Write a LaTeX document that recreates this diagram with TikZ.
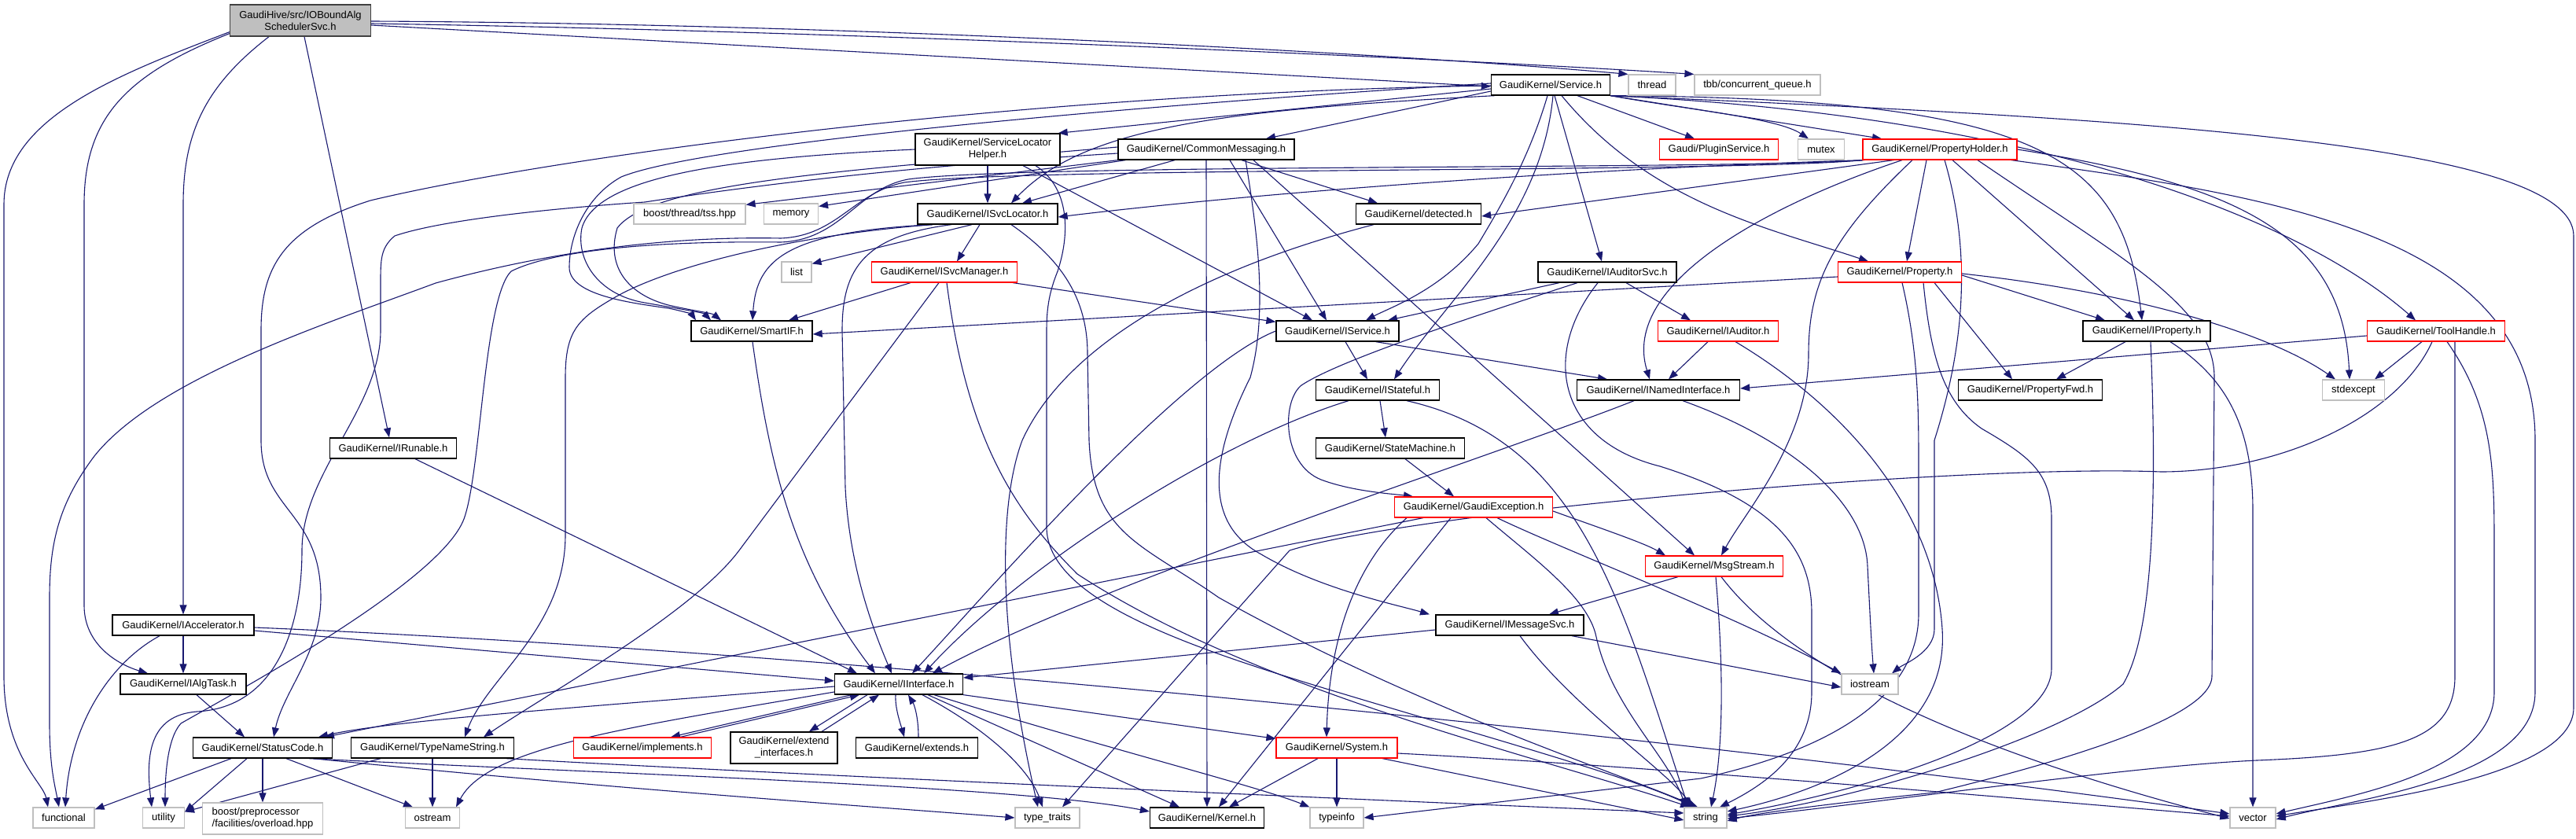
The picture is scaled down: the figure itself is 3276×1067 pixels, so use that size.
\documentclass[tikz,border=0pt]{standalone}
\usepackage{fontspec}
\setmainfont{Liberation Sans}
\usetikzlibrary{arrows.meta}
\definecolor{edgec}{HTML}{191970}
\definecolor{boxgray}{HTML}{BFBFBF}
\definecolor{rootborder}{HTML}{404040}
\definecolor{truncred}{HTML}{FF0000}
\pgfdeclarelayer{bgfill}
\pgfdeclarelayer{edges}
\pgfsetlayers{bgfill,edges,main}
\begin{document}
\begin{tikzpicture}[x=1pt,y=-1pt,
  nbox/.style={rectangle, inner sep=0pt, minimum height=26pt, fill=white, text=black, font=\fontsize{13}{15}\selectfont, align=center},
  nb/.style={nbox, draw=black, line width=1.3pt},
  nr/.style={nbox, draw=truncred, line width=1.2pt},
  ng/.style={nbox, draw=boxgray, line width=1.2pt},
  nroot/.style={nbox, draw=rootborder, fill=boxgray, line width=1.3pt},
  tall/.style={minimum height=40pt},
  lnk/.style={draw=edgec, line width=1.1pt, -{Triangle[length=12pt,width=9pt]}}
]
\useasboundingbox (0,0) rectangle (3276,1067);
\begin{pgfonlayer}{bgfill}
\fill[white] (0,0) rectangle (3276,1067);
\end{pgfonlayer}

% ---------- nodes ----------
\node[nroot,tall,minimum width=179pt] (root) at (382,26) {GaudiHive/src/IOBoundAlg\\SchedulerSvc.h};
\node[nb,minimum width=151pt] (svc) at (1972,108) {GaudiKernel/Service.h};
\node[ng,minimum width=60pt] (thread) at (2101,108) {thread};
\node[ng,minimum width=160pt] (tbb) at (2235,108) {tbb/concurrent\_queue.h};
\node[nb,tall,minimum width=184pt] (slh) at (1256,190) {GaudiKernel/ServiceLocator\\Helper.h};
\node[nb,minimum width=224pt] (cm) at (1534,190) {GaudiKernel/CommonMessaging.h};
\node[nr,minimum width=151pt] (plug) at (2186,190) {Gaudi/PluginService.h};
\node[ng,minimum width=59pt] (mutex) at (2316,190) {mutex};
\node[nr,minimum width=196pt] (ph) at (2467,190) {GaudiKernel/PropertyHolder.h};
\node[ng,minimum width=142pt] (tss) at (877,272) {boost/thread/tss.hpp};
\node[ng,minimum width=69pt] (memory) at (1006,272) {memory};
\node[nb,minimum width=178pt] (isl) at (1256,272) {GaudiKernel/ISvcLocator.h};
\node[nb,minimum width=159pt] (det) at (1804,272) {GaudiKernel/detected.h};
\node[ng,minimum width=38pt] (list) at (1013,346) {list};
\node[nr,minimum width=185pt] (ism) at (1201,346) {GaudiKernel/ISvcManager.h};
\node[nb,minimum width=176pt] (ias) at (2044,346) {GaudiKernel/IAuditorSvc.h};
\node[nr,minimum width=157pt] (prop) at (2416,346) {GaudiKernel/Property.h};
\node[nb,minimum width=154pt] (sif) at (956,421) {GaudiKernel/SmartIF.h};
\node[nb,minimum width=156pt] (isv) at (1701,421) {GaudiKernel/IService.h};
\node[nr,minimum width=153pt] (iaud) at (2185,421) {GaudiKernel/IAuditor.h};
\node[nb,minimum width=162pt] (iprop) at (2730,421) {GaudiKernel/IProperty.h};
\node[nr,minimum width=175pt] (tool) at (3098,421) {GaudiKernel/ToolHandle.h};
\node[nb,minimum width=157pt] (ist) at (1752,496) {GaudiKernel/IStateful.h};
\node[nb,minimum width=207pt] (inam) at (2109,496) {GaudiKernel/INamedInterface.h};
\node[nb,minimum width=183pt] (pfwd) at (2582,496) {GaudiKernel/PropertyFwd.h};
\node[ng,minimum width=79pt] (stdex) at (2993,496) {stdexcept};
\node[nb,minimum width=161pt] (irun) at (500,570) {GaudiKernel/IRunable.h};
\node[nb,minimum width=189pt] (sm) at (1768,570) {GaudiKernel/StateMachine.h};
\node[nr,minimum width=201pt] (gex) at (1874,645) {GaudiKernel/GaudiException.h};
\node[nr,minimum width=175pt] (msg) at (2180,720) {GaudiKernel/MsgStream.h};
\node[nb,minimum width=180pt] (iacc) at (233,795) {GaudiKernel/IAccelerator.h};
\node[nb,minimum width=188pt] (imsg) at (1920,795) {GaudiKernel/IMessageSvc.h};
\node[nb,minimum width=160pt] (ialg) at (233,870) {GaudiKernel/IAlgTask.h};
\node[nb,minimum width=163pt] (iif) at (1143,870) {GaudiKernel/IInterface.h};
\node[ng,minimum width=72pt] (iostream) at (2378,870) {iostream};
\node[nb,minimum width=177pt] (sc) at (334,951) {GaudiKernel/StatusCode.h};
\node[nb,minimum width=207pt] (tns) at (550,951) {GaudiKernel/TypeNameString.h};
\node[nr,minimum width=175pt] (impl) at (817,951) {GaudiKernel/implements.h};
\node[nb,tall,minimum width=136pt] (ext) at (997,951) {GaudiKernel/extend\\\_interfaces.h};
\node[nb,minimum width=155pt] (exts) at (1166,951) {GaudiKernel/extends.h};
\node[nr,minimum width=154pt] (sys) at (1700,951) {GaudiKernel/System.h};
\node[ng,minimum width=78pt] (functional) at (81,1040) {functional};
\node[ng,minimum width=53pt] (utility) at (208,1040) {utility};
\node[ng,tall,minimum width=153pt,align=left] (bpp) at (334,1041) {boost/preprocessor\\/facilities/overload.hpp};
\node[ng,minimum width=69pt] (ostream) at (550,1040) {ostream};
\node[ng,minimum width=82pt] (tt) at (1332,1040) {type\_traits};
\node[nb,minimum width=145pt] (kern) at (1535,1040) {GaudiKernel/Kernel.h};
\node[ng,minimum width=68pt] (tinfo) at (1700,1040) {typeinfo};
\node[ng,minimum width=54pt] (string) at (2169,1040) {string};
\node[ng,minimum width=58pt] (vector) at (2865,1040) {vector};

% ---------- edges ----------
\begin{pgfonlayer}{edges}
% root
\draw[lnk] ([yshift=-6pt]root.east) -- ([yshift=-2pt]svc.west);
\draw[lnk] ([yshift=-1pt]root.east) .. controls (1100,30) and (1800,70) .. (thread.north west);
\draw[lnk] ([yshift=-4pt]root.east) .. controls (1100,40) and (1850,75) .. (tbb.north west);
\draw[lnk] ([yshift=6pt]root.south west) .. controls (150,95) and (5,150) .. (5,260) -- (5,860) .. controls (5,960) and (55,995) .. ([xshift=-20pt]functional.north);
\draw[lnk] ([yshift=4pt]root.south west) .. controls (160,95) and (107,150) .. (107,260) -- (107,770) .. controls (107,820) and (150,845) .. ([xshift=-45pt]ialg.north);
\draw[lnk] ([xshift=-40pt]root.south) .. controls (260,110) and (233,170) .. (233,260) -- (iacc.north);
\draw[lnk] ([xshift=5pt]root.south) -- ([xshift=-5pt]irun.north);
% Service.h
\draw[lnk] ([yshift=-5pt]svc.west) -- ([xshift=-3pt]slh.north east);
\draw[lnk] ([yshift=-8pt]svc.west) -- ([xshift=76pt]cm.north);
\draw[lnk] ([xshift=5pt]svc.south west) .. controls (1560,140) and (1380,160) .. ([xshift=30pt]isl.north);
\draw[lnk] ([yshift=2pt]svc.west) .. controls (1500,130) and (900,180) .. (790,225) .. controls (745,250) and (724,300) .. (724,340) .. controls (724,375) and (800,385) .. (850,392) .. controls (870,396) and (880,400) .. ([xshift=-71pt]sif.north);
\draw[lnk] ([yshift=-1pt]svc.west) .. controls (1300,118) and (700,200) .. (471,255) .. controls (360,290) and (332,340) .. (332,420) -- (332,560) .. controls (332,650) and (408,650) .. (408,760) .. controls (408,830) and (360,880) .. ([xshift=14pt]sc.north);
\draw[lnk] ([xshift=-4pt]svc.south) .. controls (1945,200) and (1910,260) .. (1880,310) .. controls (1830,370) and (1770,390) .. ([xshift=36pt]isv.north);
\draw[lnk] ([xshift=3pt]svc.south) .. controls (1960,280) and (1840,380) .. ([xshift=21pt]ist.north);
\draw[lnk] ([xshift=5pt]svc.south) -- ([xshift=-7pt]ias.north);
\draw[lnk] ([xshift=14pt]svc.south) .. controls (2100,260) and (2250,290) .. ([xshift=-40pt]prop.north);
\draw[lnk] ([xshift=34pt]svc.south) -- ([xshift=-31pt]plug.north);
\draw[lnk] (svc.south east) .. controls (2150,140) and (2260,150) .. ([xshift=-16pt]mutex.north);
\draw[lnk] (svc.south east) -- ([xshift=-74pt]ph.north);
\draw[lnk] (svc.south east) .. controls (2600,125) and (2700,200) .. ([xshift=-6pt]iprop.north);
\draw[lnk] (svc.south east) .. controls (2650,150) and (2950,300) .. ([xshift=-26pt]tool.north);
\draw[lnk] (svc.south east) .. controls (2700,150) and (3273,180) .. (3273,300) -- (3273,900) .. controls (3273,990) and (3000,1020) .. ([yshift=2pt]vector.east);
% ServiceLocatorHelper.h
\draw[lnk] (slh.south) -- (isl.north);
\draw[lnk] (slh.west) .. controls (950,200) and (760,220) .. (740,290) .. controls (732,330) and (760,375) .. (820,385) .. controls (860,392) and (895,398) .. ([xshift=-52pt]sif.north);
\draw[lnk] ([xshift=45pt]slh.south) -- ([xshift=-32pt]isv.north);
\draw[lnk] ([xshift=61pt]slh.south) .. controls (1362,240) and (1360,300) .. (1345,345) .. controls (1335,370) and (1331,390) .. (1331,420) -- (1331,670) .. controls (1331,760) and (1500,820) .. (1700,880) .. controls (1900,940) and (2080,990) .. ([xshift=-15pt]string.north);
% CommonMessaging.h
\draw[lnk] (cm.south west) -- ([yshift=-2pt]tss.north east);
\draw[lnk] ([xshift=10pt]cm.south west) -- ([yshift=-4pt]memory.north east);
\draw[lnk] ([xshift=-40pt]cm.south) -- ([xshift=44pt]isl.north);
\draw[lnk] ([yshift=3pt]cm.west) .. controls (1100,215) and (830,230) .. (785,290) .. controls (770,340) and (800,375) .. (850,388) .. controls (880,395) and (905,398) .. ([xshift=-39pt]sif.north);
\draw[lnk] ([xshift=30pt]cm.south) -- ([xshift=-14pt]isv.north);
\draw[lnk] ([xshift=45pt]cm.south) -- ([xshift=-52pt]det.north);
\draw[lnk] ([xshift=60pt]cm.south) -- ([xshift=-25pt]msg.north);
\draw[lnk] (cm.south) -- (kern.north);
\draw[lnk] ([xshift=50pt]cm.south) .. controls (1600,300) and (1612,400) .. (1590,480) .. controls (1550,560) and (1520,660) .. (1604,705) .. controls (1680,750) and (1780,770) .. ([xshift=-102pt]imsg.north);
\draw[lnk] ([yshift=-5pt]cm.west) .. controls (1100,215) and (900,245) .. (820,257) .. controls (700,265) and (560,280) .. (502,300) .. controls (484,315) and (484,330) .. (484,360) -- (484,420) .. controls (484,520) and (384,600) .. (384,700) .. controls (384,800) and (350,900) .. (250,905) .. controls (190,910) and (185,960) .. ([xshift=-15pt]utility.north);
% PropertyHolder.h
\draw[lnk] ([xshift=-17pt]ph.south) -- ([xshift=9pt]prop.north);
\draw[lnk] ([xshift=16pt]ph.south) -- ([xshift=-16pt]iprop.north);
\draw[lnk] ([xshift=3pt]ph.south west) .. controls (2000,215) and (1600,245) .. ([yshift=-4pt]isl.east);
\draw[lnk] ([xshift=40pt]ph.south west) -- ([yshift=-3pt]det.east);
\draw[lnk] ([xshift=-48pt]ph.south) .. controls (2250,260) and (2060,360) .. ([xshift=-11pt]inam.north);
\draw[lnk] ([xshift=-35pt]ph.south) .. controls (2330,300) and (2300,360) .. (2300,450) .. controls (2300,560) and (2220,650) .. ([xshift=9pt]msg.north);
\draw[lnk] ([xshift=6pt]ph.south) .. controls (2510,330) and (2495,450) .. (2460,560) -- (2460,800) .. controls (2460,830) and (2420,845) .. ([xshift=28pt]iostream.north);
\draw[lnk] (ph.east) .. controls (2850,235) and (2980,300) .. ([xshift=-5pt]stdex.north);
\draw[lnk] ([xshift=-8pt]ph.south east) .. controls (2900,250) and (3224,300) .. (3224,560) -- (3224,880) .. controls (3224,990) and (3000,1015) .. ([yshift=-2pt]vector.east);
\draw[lnk] ([xshift=48pt]ph.south) .. controls (2700,330) and (2816,390) .. (2816,480) -- (2813,860) .. controls (2813,900) and (2700,950) .. (2460,1008) .. controls (2300,1025) and (2230,1035) .. ([yshift=-4pt]string.east);
\draw[lnk] ([xshift=1pt]ph.south west) .. controls (2200,220) and (1300,212) .. (1150,232) .. controls (1085,245) and (1065,300) .. (993,303) .. controls (850,300) and (700,320) .. (554,360) .. controls (420,410) and (200,480) .. (120,580) .. controls (75,640) and (63,690) .. (63,760) -- (63,920) .. controls (63,975) and (70,1000) .. ([xshift=-6pt]functional.north);
\draw[lnk] ([xshift=2pt]ph.south west) .. controls (2200,216) and (1300,208) .. (1155,228) .. controls (1090,240) and (1070,305) .. (993,308) .. controls (820,306) and (700,320) .. (650,345) .. controls (615,380) and (612,600) .. (590,660) .. controls (560,740) and (300,880) .. (230,920) .. controls (212,940) and (210,990) .. ([xshift=2pt]utility.north);
% ISvcLocator.h
\draw[lnk] ([xshift=-20pt]isl.south) -- ([yshift=-3pt]list.north east);
\draw[lnk] ([xshift=-10pt]isl.south) -- ([xshift=16pt]ism.north);
\draw[lnk] ([xshift=-70pt]isl.south) .. controls (1000,295) and (962,330) .. ([xshift=1pt]sif.north);
\draw[lnk] ([xshift=-46pt]isl.south) .. controls (1100,300) and (1071,340) .. (1071,420) -- (1075,620) .. controls (1080,720) and (1110,800) .. ([xshift=-9pt]iif.north);
\draw[lnk] ([xshift=-70pt]isl.south) .. controls (1000,300) and (850,340) .. (784,377) .. controls (735,405) and (719,420) .. (719,480) -- (719,680) .. controls (719,800) and (620,860) .. ([xshift=41pt]tns.north);
\draw[lnk] ([xshift=30pt]isl.south) .. controls (1350,330) and (1383,380) .. (1383,450) -- (1385,560) .. controls (1390,680) and (1450,690) .. (1550,760) .. controls (1800,900) and (2050,980) .. ([xshift=-10pt]string.north);
% ISvcManager.h
\draw[lnk] ([xshift=-43pt]ism.south) -- ([xshift=47pt]sif.north);
\draw[lnk] ([xshift=-6pt]ism.south east) -- ([yshift=-2pt]isv.north west);
\draw[lnk] ([xshift=-7pt]ism.south) -- (940,700) .. controls (880,780) and (700,880) .. ([xshift=65pt]tns.north);
\draw[lnk] ([xshift=3pt]ism.south) .. controls (1230,560) and (1290,650) .. (1370,730) .. controls (1600,880) and (1950,960) .. ([xshift=-20pt]string.north);
% IAuditorSvc.h
\draw[lnk] ([xshift=-61pt]ias.south) -- ([xshift=64pt]isv.north);
\draw[lnk] ([xshift=24pt]ias.south) -- ([xshift=-35pt]iaud.north);
\draw[lnk] ([xshift=-38pt]ias.south) .. controls (1850,410) and (1700,460) .. (1655,490) .. controls (1630,510) and (1630,590) .. (1680,610) .. controls (1720,625) and (1770,628) .. ([xshift=-77pt]gex.north);
\draw[lnk] ([xshift=-12pt]ias.south) .. controls (1960,450) and (1980,560) .. (2111,593) .. controls (2260,640) and (2304,700) .. (2304,780) -- (2304,880) .. controls (2304,960) and (2240,1000) .. ([xshift=18pt]string.north);
% Property.h
\draw[lnk] ([yshift=-4pt]prop.east) -- ([xshift=-53pt]iprop.north);
\draw[lnk] ([xshift=44pt]prop.south) -- ([xshift=-23pt]pfwd.north);
\draw[lnk] ([yshift=-2pt]prop.east) .. controls (2700,370) and (2880,420) .. ([xshift=-23pt]stdex.north);
\draw[lnk] ([yshift=-6pt]prop.west) -- ([yshift=-4pt]sif.east);
\draw[lnk] ([xshift=3pt]prop.south) .. controls (2440,450) and (2440,520) .. (2440,600) -- (2440,780) .. controls (2440,900) and (2300,960) .. (2163,990) -- (tinfo.east);
\draw[lnk] ([xshift=30pt]prop.south) .. controls (2455,450) and (2470,510) .. (2520,545) .. controls (2580,580) and (2609,600) .. (2609,660) -- (2609,850) .. controls (2609,940) and (2350,1010) .. ([yshift=4pt]string.east);
% IService.h
\draw[lnk] ([xshift=10pt]isv.south) -- ([xshift=-13pt]ist.north);
\draw[lnk] ([xshift=-30pt]isv.south east) -- ([xshift=-65pt]inam.north);
\draw[lnk] (isv.west) .. controls (1500,470) and (1250,760) .. ([xshift=17pt]iif.north);
% IAuditor.h
\draw[lnk] ([xshift=-13pt]iaud.south) -- ([xshift=13pt]inam.north);
\draw[lnk] ([xshift=22pt]iaud.south) .. controls (2350,520) and (2460,650) .. (2470,800) .. controls (2480,950) and (2300,1010) .. ([yshift=8pt]string.east);
% IProperty.h
\draw[lnk] ([xshift=-27pt]iprop.south) -- ([xshift=33pt]pfwd.north);
\draw[lnk] ([xshift=5pt]iprop.south) .. controls (2742,600) and (2742,800) .. (2700,870) .. controls (2620,940) and (2350,1020) .. ([yshift=2pt]string.east);
\draw[lnk] ([xshift=30pt]iprop.south) .. controls (2830,480) and (2865,540) .. (2865,650) -- (vector.north);
% ToolHandle.h
\draw[lnk] ([yshift=-6pt]tool.west) -- ([yshift=2pt]inam.east);
\draw[lnk] ([xshift=-18pt]tool.south) -- ([xshift=27pt]stdex.north);
\draw[lnk] ([xshift=24pt]tool.south) .. controls (3122,520) and (3122,600) .. (3122,700) -- (3122,860) .. controls (3122,940) and (3050,960) .. (2870,967) .. controls (2700,975) and (2400,1020) .. ([yshift=-1pt]string.east);
\draw[lnk] ([xshift=14pt]tool.south) .. controls (3172,520) and (3172,600) .. (3172,700) -- (3172,880) .. controls (3172,980) and (3000,1010) .. ([yshift=5pt]vector.east);
\draw[lnk] ([xshift=-5pt]tool.south) .. controls (3050,530) and (2900,600) .. (2748,600) .. controls (2500,590) and (1800,650) .. (1640,700) -- ([xshift=19pt]tt.north);
% IStateful.h
\draw[lnk] ([xshift=3pt]ist.south) -- ([xshift=-6pt]sm.north);
\draw[lnk] ([xshift=-37pt]ist.south) .. controls (1550,560) and (1300,720) .. ([xshift=32pt]iif.north);
\draw[lnk] ([xshift=37pt]ist.south) .. controls (2010,560) and (2060,760) .. ([xshift=-22pt]string.north);
% StateMachine.h
\draw[lnk] ([xshift=19pt]sm.south) -- ([xshift=-25pt]gex.north);
% INamedInterface.h
\draw[lnk] ([xshift=-31pt]inam.south) .. controls (1900,580) and (1400,740) .. ([xshift=43pt]iif.north);
\draw[lnk] ([xshift=31pt]inam.south) .. controls (2280,560) and (2372,640) .. (2375,720) .. controls (2378,780) and (2380,820) .. ([xshift=5pt]iostream.north);
% GaudiException.h
\draw[lnk] ([xshift=-64pt]gex.south) -- ([xshift=79pt]sc.north);
\draw[lnk] ([xshift=-29pt]gex.south) -- ([xshift=15pt]kern.north);
\draw[lnk] ([xshift=16pt]gex.south) .. controls (1950,710) and (2020,760) .. (2030,810) .. controls (2050,900) and (2120,960) .. ([xshift=-25pt]string.north);
\draw[lnk] ([xshift=30pt]gex.south) .. controls (1990,700) and (2200,780) .. (iostream.north west);
\draw[lnk] ([yshift=-5pt]gex.east) .. controls (2030,670) and (2090,690) .. ([xshift=-62pt]msg.north);
\draw[lnk] ([xshift=-85pt]gex.south) .. controls (1720,720) and (1690,820) .. ([xshift=-13pt]sys.north);
% MsgStream.h
\draw[lnk] ([xshift=-46pt]msg.south) -- ([xshift=50pt]imsg.north);
\draw[lnk] ([xshift=2pt]msg.south) .. controls (2192,850) and (2192,950) .. ([xshift=7pt]string.north);
\draw[lnk] ([xshift=9pt]msg.south) .. controls (2300,880) and (2600,980) .. ([yshift=-1pt]vector.west);
% IMessageSvc.h
\draw[lnk] ([yshift=-6pt]imsg.west) -- ([yshift=8pt]iif.east);
\draw[lnk] ([xshift=79pt]imsg.south) -- ([yshift=-4pt]iostream.west);
\draw[lnk] ([xshift=13pt]imsg.south) .. controls (2000,900) and (2120,980) .. ([xshift=-17pt]string.north);
% IRunable.h
\draw[lnk] ([xshift=28pt]irun.south) -- ([xshift=-53pt]iif.north);
% IAccelerator.h
\draw[lnk] (iacc) -- (ialg);
\draw[lnk] ([xshift=-30pt]iacc.south) .. controls (140,843) and (90,920) .. ([xshift=2pt]functional.north);
\draw[lnk] ([yshift=-7pt]iacc.east) -- ([yshift=4pt]iif.west);
\draw[lnk] ([yshift=-3pt]iacc.east) .. controls (1200,835) and (2300,960) .. ([yshift=5pt]vector.west);
% IAlgTask.h
\draw[lnk] ([xshift=17pt]ialg.south) -- ([xshift=-23pt]sc.north);
% SmartIF.h
\draw[lnk] ([xshift=1pt]sif.south) .. controls (980,600) and (1010,720) .. ([xshift=-30pt]iif.north);
% IInterface.h
\draw[lnk] ([yshift=-3pt]iif.west) .. controls (800,895) and (500,915) .. ([xshift=71pt]sc.north);
\draw[lnk] ([yshift=-10pt]iif.west) .. controls (800,925) and (620,950) .. ([xshift=30pt]ostream.north);
\draw[lnk] ([xshift=-60pt]iif.south) -- ([xshift=36pt]impl.north);
\draw[lnk] ([xshift=48pt]impl.north) -- ([xshift=-50pt]iif.south);
\draw[lnk] ([xshift=-40pt]iif.south) -- ([xshift=32pt]ext.north);
\draw[lnk] ([xshift=48pt]ext.north) -- ([xshift=-25pt]iif.south);
\draw[lnk] ([xshift=-4pt]iif.south) .. controls (1138,900) and (1145,920) .. ([xshift=-16pt]exts.north);
\draw[lnk] ([xshift=2pt]exts.north) .. controls (1168,910) and (1162,895) .. ([xshift=12pt]iif.south);
\draw[lnk] (iif.south east) -- ([yshift=-2pt]sys.north west);
\draw[lnk] ([xshift=37pt]iif.south) -- ([xshift=-35pt]kern.north);
\draw[lnk] ([xshift=30pt]iif.south) .. controls (1260,930) and (1310,980) .. ([xshift=-6pt]tt.north);
\draw[lnk] ([xshift=45pt]iif.south) .. controls (1400,950) and (1600,1000) .. (tinfo.north west);
% StatusCode.h
\draw[lnk] ([xshift=-40pt]sc.south) -- ([yshift=-3pt]functional.north east);
\draw[lnk] ([xshift=-20pt]sc.south) -- ([yshift=-6pt]utility.north east);
\draw[lnk] (sc.south) -- (bpp.north);
\draw[lnk] ([xshift=30pt]sc.south) -- ([xshift=-25pt]ostream.north);
\draw[lnk] ([xshift=-30pt]sc.south east) .. controls (800,985) and (1300,1000) .. ([yshift=8pt]kern.west);
\draw[lnk] ([xshift=-25pt]sc.south east) .. controls (800,1005) and (1100,1025) .. (tt.west);
% TypeNameString.h
\draw[lnk] ([xshift=-66pt]tns.south) -- ([yshift=-6pt]utility.north east);
\draw[lnk] (tns.south) -- (ostream.north);
\draw[lnk] ([xshift=-10pt]tns.south east) .. controls (1000,985) and (1800,1020) .. ([yshift=6pt]string.west);
% System.h
\draw[lnk] ([xshift=-24pt]sys.south) -- ([xshift=28pt]kern.north);
\draw[lnk] (sys.south) -- (tinfo.north);
\draw[lnk] ([xshift=58pt]sys.south) -- ([yshift=-3pt]string.west);
\draw[lnk] ([yshift=-7pt]sys.east) .. controls (2100,975) and (2500,1010) .. ([yshift=2pt]vector.west);
% detected.h
\draw[lnk] ([xshift=-57pt]det.south) .. controls (1500,350) and (1350,450) .. (1300,560) .. controls (1270,640) and (1268,800) .. ([xshift=-12pt]tt.north);
\end{pgfonlayer}
\end{tikzpicture}
\end{document}
